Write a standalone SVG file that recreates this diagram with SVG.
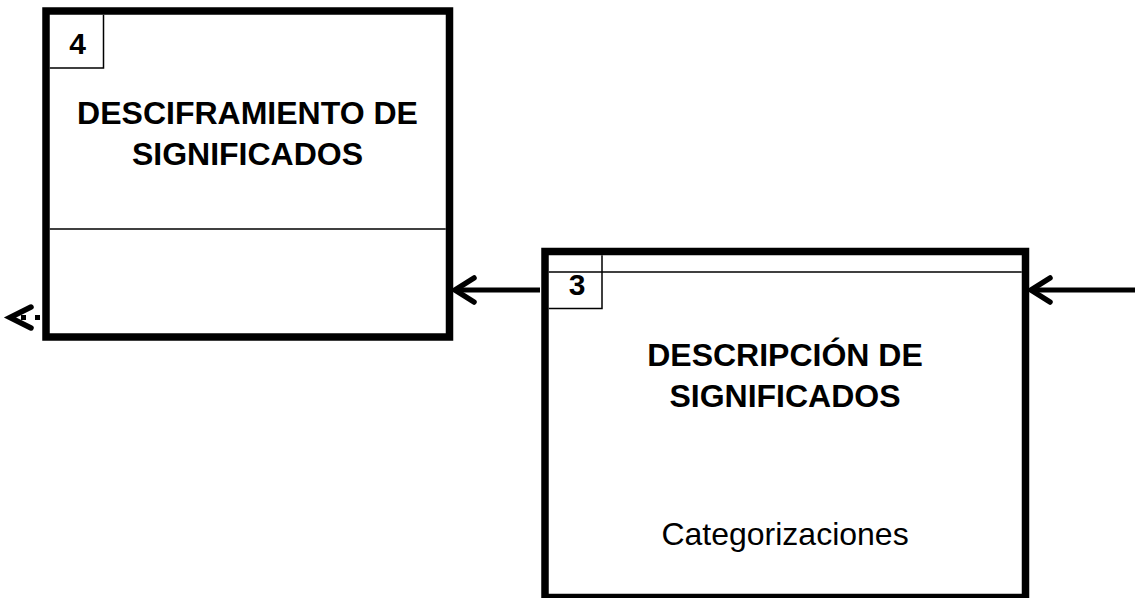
<svg xmlns="http://www.w3.org/2000/svg" width="1135" height="598" viewBox="0 0 1135 598">
<style>
.box{fill:#fff;stroke:#000;stroke-width:7.5}
.thin{fill:none;stroke:#000;stroke-width:1.5}
.title{font-family:"Liberation Sans",Arial,sans-serif;font-weight:bold;font-size:32px;text-anchor:middle;fill:#000}
.num{font-family:"Liberation Sans",Arial,sans-serif;font-weight:bold;font-size:30px;text-anchor:middle;fill:#000}
.body{font-family:"Liberation Sans",Arial,sans-serif;font-size:32px;text-anchor:middle;fill:#000}
.conn{fill:none;stroke:#000;stroke-width:5}
.head{fill:none;stroke:#000;stroke-width:5.5;stroke-linecap:round;stroke-linejoin:miter}
</style>
<rect width="1135" height="598" fill="#fff"/>
<g id="node4">
<rect class="box" x="46" y="11" width="403.5" height="326"/>
<path class="thin" d="M49.75 68H103.5V14.75"/>
<line class="thin" x1="49.75" y1="229" x2="445.75" y2="229"/>
<text class="num" x="77.5" y="54">4</text>
<text class="title" x="247.5" y="124">DESCIFRAMIENTO DE</text>
<text class="title" x="247.5" y="165">SIGNIFICADOS</text>
</g>
<g id="node3">
<rect class="box" x="545" y="251.5" width="480.5" height="346"/>
<line class="thin" x1="548.75" y1="272" x2="1021.75" y2="272"/>
<path class="thin" d="M548.75 308.5H602V255.25"/>
<text class="num" x="577" y="295">3</text>
<text class="title" x="785" y="366">DESCRIPCIÓN DE</text>
<text class="title" x="785" y="407">SIGNIFICADOS</text>
<text class="body" x="785" y="545">Categorizaciones</text>
</g>
<g id="connectors">
<line class="conn" x1="540" y1="290" x2="455" y2="290"/>
<polyline class="head" points="474,278 455,290 474,302"/>
<line class="conn" x1="1135" y1="290" x2="1031" y2="290"/>
<polyline class="head" points="1050,278 1031,290 1050,302"/>
<line class="conn" x1="40" y1="317.5" x2="14" y2="317.5" stroke-dasharray="5 9"/>
<polyline class="head" points="31,307 10,317.5 31,328"/>
</g>
</svg>
